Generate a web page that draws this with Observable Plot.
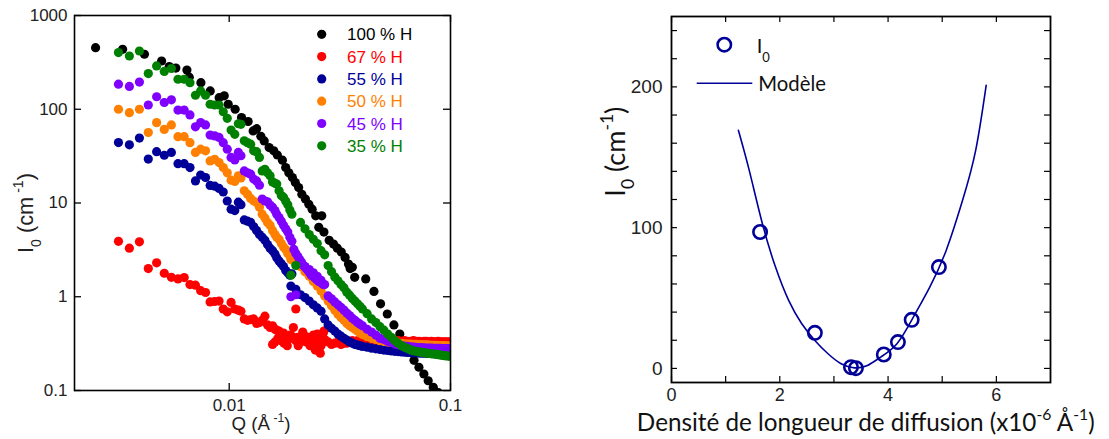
<!DOCTYPE html>
<html><head><meta charset="utf-8">
<script src="https://cdn.jsdelivr.net/npm/d3@7"></script>
<script src="https://cdn.jsdelivr.net/npm/@observablehq/plot@0.6"></script>
<style>
body{margin:0;background:#fff;}
#wrap{position:relative;width:1109px;height:439px;overflow:hidden;background:#fff;}
#left{position:absolute;left:0;top:0;width:460px;height:439px;}
#right{position:absolute;left:580px;top:0;width:529px;height:439px;}
</style>
</head><body>
<div id="wrap"><div id="left"></div><div id="right"></div></div>
<script>
// ---------------- LEFT PANEL DATA (Q in Å^-1, I0 in cm^-1) ----------------
const seriesLabels = ["100 % H", "67 % H", "55 % H", "50 % H", "45 % H", "35 % H"];
const seriesColors = ["#000000", "#ff0000", "#000099", "#ff8000", "#8000ff", "#008000"];

const qBlack = [0.00249,0.0033,0.00414,0.00495,0.00536,0.00574,0.00644,0.0066,0.00745,0.00821,0.00901,0.0095,0.0099,0.01064,0.01137,0.01218,0.01283,0.0133,0.0139,0.0144,0.01515,0.0159,0.0165,0.0174,0.018,0.0186,0.0193,0.0199,0.0206,0.0213,0.0221,0.0229,0.0237,0.0246,0.0254,0.0262,0.0268,0.0283,0.0296,0.0308,0.0321,0.0334,0.0346,0.0352,0.036,0.0369,0.0414,0.0451,0.0483,0.0518,0.0555,0.059,0.0627,0.0655,0.0684,0.072,0.0758,0.0793,0.0836,0.088];
const iBlack = [454,436,386,327,285,275,262,220,192,157,133,139,113,100,81.5,74,58.7,62,51.5,45.9,39,36,32.5,28.6,23.9,21,18.7,16.5,14.6,12.4,11,9.7,8.6,7.3,5.5,7.3,4.9,4.0,3.65,3.3,3.0,2.63,2.23,2.0,2.06,1.61,1.55,1.14,0.84,0.655,0.5,0.4,0.32,0.26,0.21,0.177,0.15,0.127,0.108,0.095];

const qLow = [0.00316,0.00354,0.00393,0.00431,0.0047,0.00509,0.00548,0.00587,0.00626,0.00665,0.00704,0.00743,0.00782,0.0082,0.0086,0.009,0.0094,0.0098,0.0102,0.0106,0.011,0.0113,0.0117,0.0121,0.0125,0.0129,0.0133,0.0137,0.0141,0.0145,0.0149,0.0153,0.0157,0.0161,0.0164,0.0168,0.0172,0.0176,0.018,0.0184,0.0188,0.0192,0.0196,0.02,0.0204,0.0208,0.0212,0.0215,0.0219,0.0223,0.0227,0.0231,0.0235,0.0239,0.0243,0.0247,0.0251,0.0254,0.0258,0.0262,0.0266];
const qHigh = [0.019,0.020,0.021,0.022,0.023,0.024,0.025,0.026,0.027,0.028,0.029,0.030,0.031,0.032,0.033,0.034,0.035,0.036,0.037,0.038,0.039,0.040,0.042,0.044,0.046,0.048,0.050,0.052,0.054,0.056,0.058,0.060,0.062,0.064,0.066,0.068,0.070,0.072,0.074,0.076,0.078,0.080,0.082,0.084,0.086,0.088,0.090,0.092,0.094,0.096,0.098,0.100];

const iLow67 = [3.9,3.3,3.85,2.0,2.3,1.78,1.61,1.55,1.6,1.35,1.33,1.16,1.11,0.88,0.89,0.9,0.74,0.69,0.87,0.74,0.72,0.7,0.58,0.56,0.57,0.58,0.52,0.53,0.56,0.62,0.5,0.47,0.49,0.45,0.44,0.43,0.4,0.41,0.38,0.37,0.39,0.38,0.36,0.34,0.37,0.33,0.36,0.4,0.35,0.33,0.37,0.36,0.31,0.34,0.38,0.33,0.29,0.36,0.25,0.35,0.41];
const iHigh67 = [0.36,0.74,0.34,0.38,0.32,0.36,0.40,0.30,0.35,0.33,0.31,0.32,0.33,0.31,0.32,0.32,0.33,0.34,0.33,0.34,0.34,0.35,0.34,0.35,0.34,0.35,0.34,0.34,0.345,0.34,0.34,0.335,0.34,0.335,0.335,0.34,0.335,0.335,0.33,0.335,0.335,0.33,0.335,0.33,0.33,0.335,0.33,0.33,0.33,0.33,0.33,0.33];
const qExtra67 = [0.0157,0.0161,0.0166,0.0172,0.0177,0.0183,0.0195,0.0205,0.0215,0.0225,0.0232,0.024,0.0245,0.0255,0.0263,0.0268];
const iExtra67 = [0.31,0.33,0.36,0.34,0.32,0.3,0.47,0.3,0.42,0.35,0.3,0.39,0.27,0.28,0.38,0.43];

const iLow55 = [44.1,41.7,49.3,29.4,35.3,32.3,34.6,26.3,26.3,23.9,17.2,19.9,18.7,15.4,15.1,14.3,13.1,10.5,8.6,8.3,10.2,9.6,6.6,6.4,6.2,5.6,5.1,4.6,4.3,4.0,3.6,3.3,3.1,2.85,2.6,2.4,2.25,2.1,1.9,1.8,1.7,1.75];
const iHigh55 = [1.3,1.2,1.05,0.98,0.9,0.82,0.76,0.7,0.58,0.5,0.46,0.43,0.40,0.38,0.36,0.345,0.33,0.32,0.31,0.305,0.30,0.295,0.29,0.283,0.278,0.274,0.27,0.267,0.264,0.262,0.26,0.258,0.256,0.255,0.254,0.253,0.252,0.251,0.25,0.25,0.249,0.248,0.248,0.247,0.247,0.246,0.246,0.246,0.245,0.245,0.245,0.245];

const iLow50 = [100,92,100,56.5,72,61,68,51,51,44,34.6,37.5,36,28.1,29.2,27,23.9,21,17.5,17,19.5,18.5,13.5,12.4,11.2,10.5,10.1,9.0,7.6,6.9,6.2,5.8,5.1,4.6,4.3,4.1,3.7,3.4,3.2,2.9,2.75,2.55,2.4];
const iHigh50 = [2.5,2.3,2.1,1.85,1.65,1.45,1.3,1.15,1.02,0.9,0.8,0.72,0.65,0.6,0.56,0.52,0.49,0.47,0.45,0.43,0.41,0.395,0.375,0.36,0.35,0.34,0.335,0.33,0.326,0.322,0.32,0.318,0.315,0.313,0.312,0.311,0.31,0.309,0.308,0.307,0.306,0.305,0.304,0.304,0.303,0.302,0.302,0.301,0.301,0.3,0.3,0.3];

const iLow45 = [185,175,195,111,136,118,126,98,98,87,65,72,68,53,52,50,44,37.5,30.6,28.8,34.6,31.9,22,21,20.3,18,17.2,15.5,11,10.5,10.3,9.5,9,8.3,7.6,7,6.4,5.8,5.3,4.9,4.3,3.9,3.2,2.9,2.7,2.5,2.35,2.2,2.1,2.0,1.9,1.8,1.7,1.65,1.6,1.55,1.5,1.45,1.45,1.4,1.35];
const iHigh45 = [1.0,1.05,2.3,2.1,1.95,1.8,1.65,1.5,1.35,1.02,0.95,0.88,0.82,0.77,0.72,0.67,0.63,0.59,0.56,0.53,0.51,0.49,0.45,0.42,0.39,0.36,0.35,0.335,0.325,0.315,0.308,0.302,0.298,0.295,0.292,0.29,0.288,0.287,0.286,0.285,0.284,0.283,0.283,0.282,0.282,0.281,0.281,0.28,0.28,0.28,0.279,0.279];

const iLow35 = [402,370,418,240,290,253,272,209,209,192,141,157,141,113,111,111,94,80,60,54,70,69,46,44,42.4,36,35.3,30.6,22,22.9,21,19.5,16.8,16.2,15.9,13.5,12,11.5,10.5,9.6,8.4,7.6];
const iHigh35 = [1.7,2.15,6.2,5.3,4.6,4.1,3.7,3.1,2.8,2.15,1.85,1.62,1.48,1.35,1.25,1.12,1.04,0.96,0.9,0.84,0.79,0.74,0.66,0.58,0.53,0.48,0.44,0.40,0.37,0.34,0.32,0.30,0.29,0.28,0.27,0.265,0.262,0.258,0.255,0.253,0.25,0.248,0.246,0.245,0.243,0.241,0.239,0.237,0.235,0.234,0.233,0.232];

const xTicksL = [0.01, 0.1];
const yTicksL = [0.1, 1, 10, 100, 1000];

// ---------------- RIGHT PANEL DATA ----------------
const sldPoints = [1.636, 2.648, 3.315, 3.406, 3.921, 4.182, 4.436, 4.939];
const i0Points = [96.9, 25.3, 0.9, 0.2, 9.9, 18.7, 34.5, 72];
const sldModel = [1.236,1.436,1.679,1.921,2.164,2.406,2.648,2.891,3.133,3.376,3.618,3.861,4.164,4.467,4.770,5.073,5.376,5.618,5.812];
const i0Model = [169.1,140.7,102.8,72,48.3,31.7,19.9,10.4,3.3,0.4,2.1,8,17.5,36.4,57.8,83.8,119.4,154.9,201.1];
const xMajorR = [0, 2, 4, 6], xMinorR = [1, 3, 5];
const yMajorR = [0, 100, 200], yMinorR = [20, 40, 60, 80, 120, 140, 160, 180, 220, 240];

// ---------------- helpers ----------------
const rowsOf = (q, vals) => vals.map((v, k) => ({Q: q[k], I: v}));
const seriesRows = [
  rowsOf(qBlack, iBlack),
  [...rowsOf(qLow, iLow67), ...rowsOf(qHigh, iHigh67), ...rowsOf(qExtra67, iExtra67)],
  [...rowsOf(qLow, iLow55), ...rowsOf(qHigh, iHigh55)],
  [...rowsOf(qLow, iLow50), ...rowsOf(qHigh, iHigh50)],
  [...rowsOf(qLow, iLow45), ...rowsOf(qHigh, iHigh45)],
  [...rowsOf(qLow, iLow35), ...rowsOf(qHigh, iHigh35)]
];

function rich(sel, parts, o) {
  const build = (size) => {
    const t = sel.append("text")
      .attr("font-family", o.family).attr("font-size", size)
      .attr("fill", o.fill || "#000").attr("text-anchor", o.anchor || "start");
    if (o.rotate) t.attr("transform", `translate(${o.x},${o.y}) rotate(${o.rotate})`);
    else t.attr("x", o.x).attr("y", o.y);
    let shift = 0;
    for (const [s, k] of parts) {
      const target = k === "sub" ? (o.subShift ?? 0.35) : k === "sup" ? -0.45 : 0;
      const ts = t.append("tspan").text(s);
      const d = (target - shift) * size;
      if (d) ts.attr("dy", d.toFixed(2));
      if (k) ts.attr("font-size", size * 0.65);
      shift = target;
    }
    return t;
  };
  let t = build(o.size);
  if (o.fit) {
    const w = t.node().getComputedTextLength();
    if (w > 0) { t.remove(); t = build(o.size * o.fit / w); }
  }
  return t;
}

// ---------------- LEFT PLOT ----------------
const LW = 460, LH = 439, LM = {t: 15, r: 10, b: 49, l: 74};
const lfh = LH - LM.t - LM.b, lfw = LW - LM.l - LM.r;
const arial = "'Liberation Sans', Arial, Helvetica, sans-serif";
const lato = "Lato, 'Open Sans', sans-serif";
const leftPlot = Plot.plot({
  width: LW, height: LH,
  marginTop: LM.t, marginRight: LM.r, marginBottom: LM.b, marginLeft: LM.l,
  style: {fontFamily: arial, color: "#222", background: "#fff", overflow: "visible"},
  x: {type: "log", domain: [0.002, 0.1]},
  y: {type: "log", domain: [0.1, 1000]},
  marks: [
    ...seriesRows.map((rows, k) => Plot.dot(rows, {x: "Q", y: "I", r: 4.6, fill: seriesColors[k], stroke: "none", clip: true})),
    Plot.axisX({ticks: xTicksL, tickSize: 0, tickPadding: 8, tickFormat: d => String(d), fontSize: 17, label: null}),
    Plot.axisY({ticks: yTicksL, tickSize: 0, tickPadding: 7, tickFormat: d => String(d), fontSize: 17, label: null}),
    Plot.ruleX(xTicksL, {x: d => d, insetTop: lfh - 7, stroke: "#000", strokeWidth: 1.3}),
    Plot.ruleX(xTicksL, {x: d => d, insetBottom: lfh - 7, stroke: "#000", strokeWidth: 1.3}),
    Plot.ruleY(yTicksL, {y: d => d, insetRight: lfw - 7, stroke: "#000", strokeWidth: 1.3}),
    Plot.ruleY(yTicksL, {y: d => d, insetLeft: lfw - 7, stroke: "#000", strokeWidth: 1.3}),
    Plot.frame({stroke: "#000", strokeWidth: 1.6})
  ]
});
document.getElementById("left").appendChild(leftPlot);
const ls = d3.select(leftPlot);
seriesLabels.forEach((lab, k) => {
  const y = 34.3 + 22.3 * k;
  ls.append("circle").attr("cx", 321.7).attr("cy", y).attr("r", 4.6).attr("fill", seriesColors[k]);
  ls.append("text").attr("x", 347).attr("y", y).attr("dy", "0.36em").attr("text-anchor", "start")
    .attr("font-family", arial).attr("font-size", 17).attr("fill", seriesColors[k]).text(lab);
});
rich(ls, [["Q (Å"], [" -1", "sup"], [")"]], {x: 261, y: 430, anchor: "middle", size: 20, family: arial, fill: "#222", fit: 59});
rich(ls, [["I"], ["0", "sub"], [" (cm"], [" -1", "sup"], [")"]], {x: 33, y: 213, rotate: -90, anchor: "middle", size: 21, family: arial, fill: "#222", fit: 80});

// ---------------- RIGHT PLOT ----------------
const RW = 529, RH = 439, RM = {t: 16, r: 59, b: 57, l: 91};
const rfh = RH - RM.t - RM.b, rfw = RW - RM.l - RM.r;
const navy = "#000099";
const rightPlot = Plot.plot({
  width: RW, height: RH,
  marginTop: RM.t, marginRight: RM.r, marginBottom: RM.b, marginLeft: RM.l,
  style: {fontFamily: arial, color: "#222", background: "#fff", overflow: "visible"},
  x: {domain: [0, 7]},
  y: {domain: [-10, 250]},
  marks: [
    Plot.line(sldModel.map((x, k) => ({x, y: i0Model[k]})), {x: "x", y: "y", stroke: navy, strokeWidth: 1.6, curve: "natural"}),
    Plot.dot(sldPoints.map((x, k) => ({x, y: i0Points[k]})), {x: "x", y: "y", r: 6.7, stroke: navy, strokeWidth: 2.6, fill: "none"}),
    Plot.axisX({ticks: xMajorR, tickSize: 0, tickPadding: 6, tickFormat: d => String(d), fontSize: 18, label: null}),
    Plot.axisY({ticks: yMajorR, tickSize: 0, tickPadding: 9, tickFormat: d => String(d), fontSize: 19, label: null}),
    Plot.ruleX([...xMajorR, ...xMinorR], {x: d => d, insetTop: rfh - 6, stroke: "#000", strokeWidth: 1.2}),
    Plot.ruleX([...xMajorR, ...xMinorR], {x: d => d, insetBottom: rfh - 6, stroke: "#000", strokeWidth: 1.2}),
    Plot.ruleY([...yMajorR, ...yMinorR], {y: d => d, insetRight: rfw - 6, stroke: "#000", strokeWidth: 1.2}),
    Plot.ruleY([...yMajorR, ...yMinorR], {y: d => d, insetLeft: rfw - 6, stroke: "#000", strokeWidth: 1.2}),
    Plot.frame({stroke: "#000", strokeWidth: 1.8})
  ]
});
document.getElementById("right").appendChild(rightPlot);
const rs = d3.select(rightPlot);
rs.append("circle").attr("cx", 144.3).attr("cy", 44.7).attr("r", 6.7).attr("fill", "none").attr("stroke", navy).attr("stroke-width", 2.6);
rich(rs, [["I"], ["0", "sub"]], {x: 176.7, y: 53.3, size: 20, family: lato, fill: "#111", subShift: 0.42});
rs.append("line").attr("x1", 116.7).attr("x2", 172.3).attr("y1", 83.3).attr("y2", 83.3).attr("stroke", navy).attr("stroke-width", 1.6);
rich(rs, [["Modèle"]], {x: 178.3, y: 90.7, size: 21, family: lato, fill: "#111", fit: 67.7});
rich(rs, [["Densité de longueur de diffusion (x10"], ["-6", "sup"], [" Å"], ["-1", "sup"], [")"]], {x: 285.8, y: 431, anchor: "middle", size: 23, family: lato, fill: "#111", fit: 458});
rich(rs, [["I"], ["0", "sub"], [" (cm"], ["-1", "sup"], [")"]], {x: 45, y: 151.7, rotate: -90, anchor: "middle", size: 26, family: lato, fill: "#111", fit: 90});
</script>
</body></html>
